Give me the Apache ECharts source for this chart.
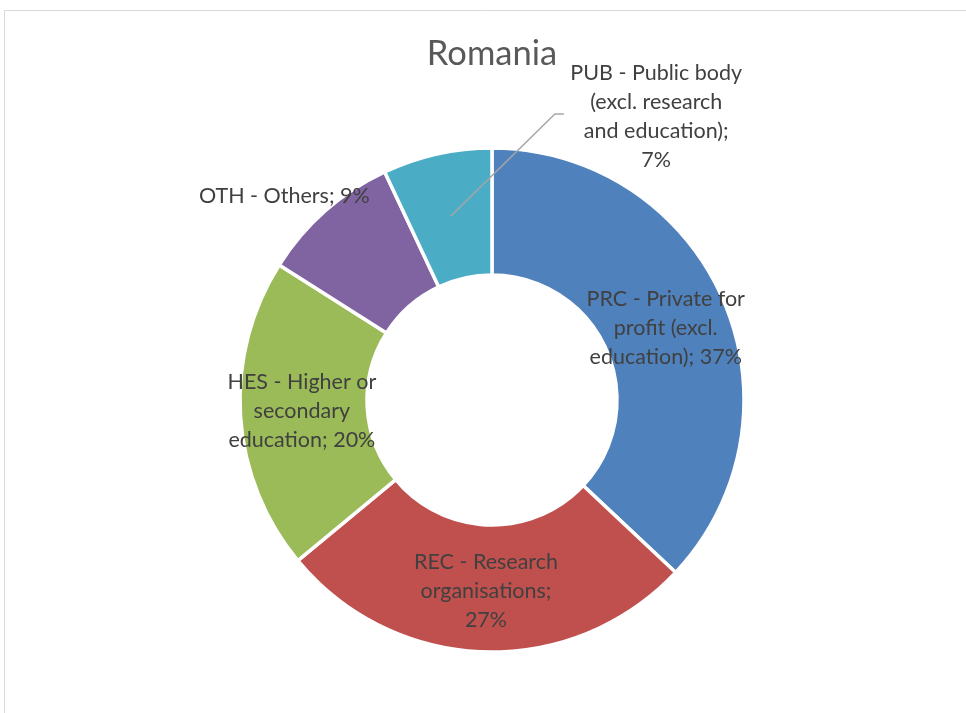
<!DOCTYPE html>
<html>
<head>
<meta charset="utf-8">
<title>Romania</title>
<script src="https://cdn.jsdelivr.net/npm/echarts@6/dist/echarts.min.js"></script>
<style>
  html, body { margin: 0; padding: 0; background: #ffffff; }
  #chart { width: 966px; height: 713px; }
</style>
</head>
<body>
<div id="chart"></div>
<script>
// Participation by organisation type (share of total, %)
const categories = [
  'PRC - Private for profit (excl. education)',
  'REC - Research organisations',
  'HES - Higher or secondary education',
  'OTH - Others',
  'PUB - Public body (excl. research and education)'
];
const values = [37, 27, 20, 9, 7];
// Wrapped label text for each slice
const labelLines = [
  ['PRC - Private for', 'profit (excl.', 'education); 37%'],
  ['REC - Research', 'organisations;', '27%'],
  ['HES - Higher or', 'secondary', 'education; 20%'],
  ['OTH - Others; 9%'],
  ['PUB - Public body', '(excl. research', 'and education);', '7%']
];
const colors = ['#4F81BD', '#C0504D', '#9BBB59', '#8064A2', '#4BACC6'];

const FONT = 'Lato';
const CENTER = [492, 400];
const RADIUS = [125, 252];
// label shifts from the slice centre (OTH and PUB sit outside the ring)
const labelOffsets = [[-2, 4], [0, 0], [1, -1], [-81, -60], [206, -97]];

const chart = echarts.init(document.getElementById('chart'), null, { renderer: 'canvas' });

const data = categories.map((name, i) => ({
  name: name,
  value: values[i],
  itemStyle: { color: colors[i] },
  label: { formatter: labelLines[i].join('\n'), offset: labelOffsets[i] }
}));

const frame = {
  type: 'rect',
  silent: true,
  shape: { x: 4.5, y: 10.5, width: 1000, height: 800 },
  style: { fill: 'none', stroke: '#d9d9d9', lineWidth: 1 }
};
const titleText = {
  type: 'text',
  silent: true,
  x: 492,
  y: 54,
  style: {
    text: 'Romania',
    align: 'center',
    verticalAlign: 'middle',
    fontFamily: FONT,
    fontSize: 34.5,
    fill: '#595959'
  }
};

chart.setOption({
  animation: false,
  graphic: [frame, titleText],
  series: [{
    type: 'pie',
    center: CENTER,
    radius: RADIUS,
    startAngle: 90,
    clockwise: true,
    avoidLabelOverlap: false,
    itemStyle: { borderColor: '#ffffff', borderWidth: 3.5 },
    label: {
      show: true,
      position: 'inside',
      fontFamily: FONT,
      fontSize: 21.5,
      lineHeight: 29,
      color: '#404040',
      align: 'center'
    },
    labelLine: { show: false },
    emphasis: { disabled: true },
    data: data
  }]
});

// Leader line from the PUB slice to its label, taken from the pie's own layout
(function drawLeader() {
  const idx = 4;
  let cx, cy, rMid, mid;
  try {
    const layout = chart.getModel().getSeriesByIndex(0).getData().getItemLayout(idx);
    cx = layout.cx; cy = layout.cy;
    rMid = (layout.r + layout.r0) / 2;
    mid = (layout.startAngle + layout.endAngle) / 2;
  } catch (e) {
    const total = values.reduce((a, b) => a + b, 0);
    const before = values.slice(0, idx).reduce((a, b) => a + b, 0);
    cx = CENTER[0]; cy = CENTER[1];
    rMid = (RADIUS[0] + RADIUS[1]) / 2;
    mid = -Math.PI / 2 + (before + values[idx] / 2) / total * Math.PI * 2;
  }
  const sx = cx + rMid * Math.cos(mid);
  const sy = cy + rMid * Math.sin(mid);
  const off = labelOffsets[idx];
  const lx = sx + off[0], ly = sy + off[1];
  chart.setOption({
    graphic: [frame, titleText, {
      type: 'polyline',
      silent: true,
      z: 10,
      shape: { points: [[sx, sy], [lx - 102, ly - 5], [lx - 93, ly - 5]] },
      style: { fill: 'none', stroke: '#a6a6a6', lineWidth: 1.5 }
    }]
  });
})();
</script>
</body>
</html>
